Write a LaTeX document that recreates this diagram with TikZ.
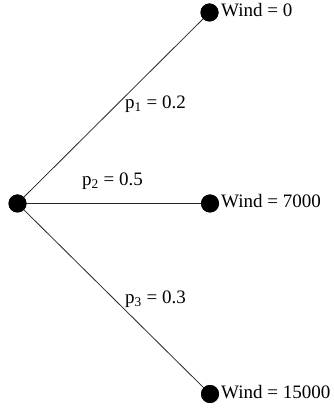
\documentclass[tikz,border=0pt]{standalone}
\usepackage{fontspec}
\setmainfont{Liberation Serif}
\begin{document}
\begin{tikzpicture}[x=1pt,y=1pt,
  dot/.style={circle,fill=black,inner sep=0pt,minimum size=18pt},
  txt/.style={anchor=base west,inner sep=0pt,font=\fontsize{19}{21}\selectfont},
  branch/.style={draw=black!85,line width=0.8pt}]
\useasboundingbox (0,0) rectangle (334,409);
\node[dot] (root) at (17.5,205.5) {};
\node[dot] (w0) at (209.5,396.5) {};
\node[dot] (w7) at (210,205.5) {};
\node[dot] (w15) at (210,15) {};
\draw[branch] (root.center) -- (w0.center);
\draw[branch] (root.center) -- (w7.center);
\draw[branch] (root.center) -- (w15.center);
\node[dot] at (root) {};
\node[dot] at (w0) {};
\node[dot] at (w7) {};
\node[dot] at (w15) {};
\node[txt] (l0) at (221,392) {Wind = 0};
\node[txt] (l7) at (221,201) {Wind = 7000};
\node[txt] (l15) at (221,10) {Wind = 15000};
\node[txt] (p1) at (125,300) {p\textsubscript{1} = 0.2};
\node[txt] (p2) at (82,223) {p\textsubscript{2} = 0.5};
\node[txt] (p3) at (125,105) {p\textsubscript{3} = 0.3};
\end{tikzpicture}
\end{document}
